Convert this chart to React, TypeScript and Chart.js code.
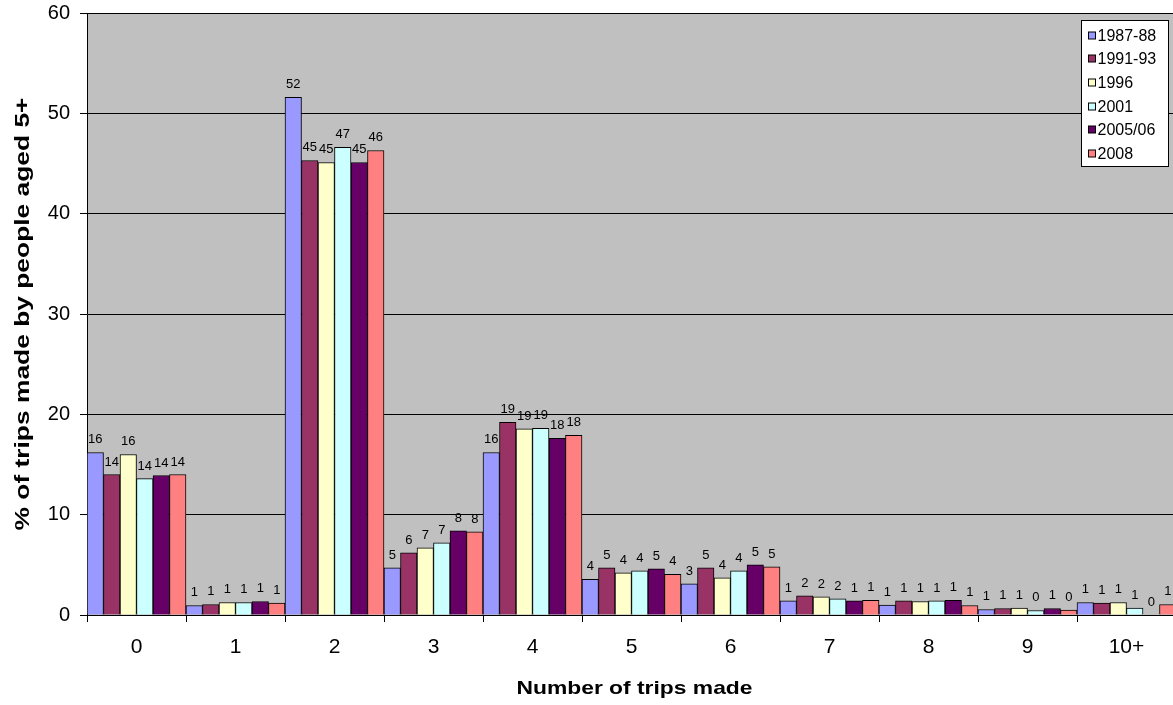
import React, { useEffect, useRef } from 'react';
import { Chart, registerables } from 'chart.js';

Chart.register(...registerables);

// Number of trips made per day (x categories)
const tripCounts = ['0', '1', '2', '3', '4', '5', '6', '7', '8', '9', '10+'];

// Survey periods (series)
const surveyYears = ['1987-88', '1991-93', '1996', '2001', '2005/06', '2008'];

// % of trips made by people aged 5+, per survey period
const share1987_88 = [16.2, 0.95, 51.6, 4.7, 16.2, 3.55, 3.1, 1.4, 1.0, 0.55, 1.25];
const share1991_93 = [14.0, 1.05, 45.3, 6.2, 19.2, 4.7, 4.7, 1.9, 1.4, 0.65, 1.2];
const share1996 = [16.0, 1.25, 45.1, 6.7, 18.55, 4.2, 3.7, 1.8, 1.35, 0.7, 1.25];
const share2001 = [13.6, 1.25, 46.6, 7.2, 18.6, 4.4, 4.4, 1.6, 1.4, 0.45, 0.7];
const share2005_06 = [13.9, 1.35, 45.1, 8.4, 17.6, 4.6, 5.0, 1.4, 1.45, 0.65, 0];
const share2008 = [14.0, 1.2, 46.3, 8.3, 17.9, 4.05, 4.8, 1.45, 0.95, 0.48, 1.05];

const seriesValues = [share1987_88, share1991_93, share1996, share2001, share2005_06, share2008];
const seriesColours = ['#9999FF', '#993366', '#FFFFCC', '#CCFFFF', '#660066', '#FF8080'];

// Value axis range
const yMin = 0;
const yMax = 60;
const yStep = 10;

const xAxisTitle = 'Number of trips made';
const yAxisTitle = '% of trips made by people aged 5+';

const FONT = "'Liberation Sans', Arial, Helvetica, sans-serif";

// Grey plot background
const plotBackground = {
  id: 'plotBackground',
  beforeDraw(chart: any) {
    const { ctx, chartArea } = chart;
    ctx.save();
    ctx.fillStyle = '#C0C0C0';
    ctx.fillRect(chartArea.left, chartArea.top, chartArea.right - chartArea.left, chartArea.bottom - chartArea.top);
    ctx.restore();
  },
};

// Rounded value above each bar
const barValueLabels = {
  id: 'barValueLabels',
  afterDatasetsDraw(chart: any) {
    const { ctx } = chart;
    ctx.save();
    ctx.font = `13px ${FONT}`;
    ctx.fillStyle = '#000';
    ctx.textAlign = 'center';
    ctx.textBaseline = 'alphabetic';
    chart.data.datasets.forEach((ds: any, di: number) => {
      const meta = chart.getDatasetMeta(di);
      meta.data.forEach((bar: any, i: number) => {
        const v = ds.data[i] as number;
        ctx.fillText(String(Math.round(v)), bar.x, bar.y - 9);
      });
    });
    ctx.restore();
  },
};

// Boxed legend in the top-right corner of the plot
const boxLegend = {
  id: 'boxLegend',
  afterDraw(chart: any) {
    const { ctx, chartArea } = chart;
    const boxW = 87;
    const boxH = 146;
    const x0 = Math.round(chartArea.right - 95) + 0.5;
    const y0 = Math.round(chartArea.top + 7) + 0.5;
    ctx.save();
    ctx.fillStyle = '#FFFFFF';
    ctx.fillRect(x0, y0, boxW, boxH);
    ctx.strokeStyle = '#000';
    ctx.lineWidth = 1;
    ctx.strokeRect(x0, y0, boxW, boxH);
    ctx.font = `16px ${FONT}`;
    ctx.textAlign = 'left';
    ctx.textBaseline = 'middle';
    chart.data.datasets.forEach((ds: any, i: number) => {
      const cy = Math.round(y0 + 15 + i * 23.7);
      ctx.fillStyle = ds.backgroundColor;
      ctx.fillRect(x0 + 7, cy - 4, 7, 7);
      ctx.strokeStyle = '#000';
      ctx.strokeRect(x0 + 7, cy - 4, 7, 7);
      ctx.fillStyle = '#000';
      ctx.fillText(ds.label, x0 + 16, cy + 1);
    });
    ctx.restore();
  },
};

// Bold axis titles, slightly widened like the spreadsheet rendering
const axisTitles = {
  id: 'axisTitles',
  afterDraw(chart: any) {
    const { ctx, chartArea } = chart;
    ctx.save();
    ctx.fillStyle = '#000';
    ctx.textAlign = 'center';
    ctx.textBaseline = 'alphabetic';

    ctx.font = `bold 19px ${FONT}`;
    const xw = ctx.measureText(xAxisTitle).width;
    ctx.save();
    ctx.translate((chartArea.left + chartArea.right) / 2 + 3, chartArea.bottom + 79);
    ctx.scale(236 / xw, 1);
    ctx.fillText(xAxisTitle, 0, 0);
    ctx.restore();

    ctx.font = `bold 20px ${FONT}`;
    const yw = ctx.measureText(yAxisTitle).width;
    ctx.save();
    ctx.translate(29, (chartArea.top + chartArea.bottom) / 2);
    ctx.rotate(-Math.PI / 2);
    ctx.scale(433 / yw, 1);
    ctx.fillText(yAxisTitle, 0, 0);
    ctx.restore();

    ctx.restore();
  },
};

export default function App() {
  const canvasRef = useRef<HTMLCanvasElement | null>(null);

  useEffect(() => {
    if (!canvasRef.current) return;
    const chart = new Chart(canvasRef.current, {
      type: 'bar',
      data: {
        labels: tripCounts,
        datasets: surveyYears.map((year, i) => ({
          label: year,
          data: seriesValues[i],
          backgroundColor: seriesColours[i],
          borderColor: '#000',
          borderWidth: 1,
          categoryPercentage: 1,
          barPercentage: 1,
        })),
      },
      options: {
        responsive: false,
        animation: false,
        devicePixelRatio: 1,
        layout: { padding: { top: 13, right: 1, left: 0, bottom: 0 } },
        plugins: {
          legend: { display: false },
          tooltip: { enabled: false },
        },
        scales: {
          x: {
            offset: true,
            grid: {
              display: true,
              drawOnChartArea: false,
              drawTicks: true,
              tickLength: 7,
              color: '#000',
              offset: true,
            },
            border: { display: true, color: '#000', width: 1 },
            ticks: {
              color: '#000',
              font: { family: FONT, size: 21 },
              padding: 13,
              maxRotation: 0,
            },
            afterFit(scale: any) {
              scale.height = 90;
              scale.paddingLeft = 0;
              scale.paddingRight = 0;
            },
          },
          y: {
            min: yMin,
            max: yMax,
            grid: {
              color: '#000',
              tickColor: '#000',
              tickLength: 7,
              drawTicks: true,
            },
            border: { display: true, color: '#000', width: 1 },
            ticks: {
              stepSize: yStep,
              color: '#000',
              font: { family: FONT, size: 20 },
              padding: 10,
            },
            afterFit(scale: any) {
              scale.width = 87;
              scale.paddingTop = 0;
              scale.paddingBottom = 0;
            },
          },
        },
      },
      plugins: [plotBackground, barValueLabels, boxLegend, axisTitles],
    });
    return () => chart.destroy();
  }, []);

  return (
    <div
      style={{
        position: 'fixed',
        left: 0,
        top: 0,
        width: 1173,
        height: 705,
        overflow: 'hidden',
        background: '#fff',
      }}
    >
      <canvas ref={canvasRef} width={1177} height={705} style={{ display: 'block', width: 1177, height: 705 }} />
    </div>
  );
}
